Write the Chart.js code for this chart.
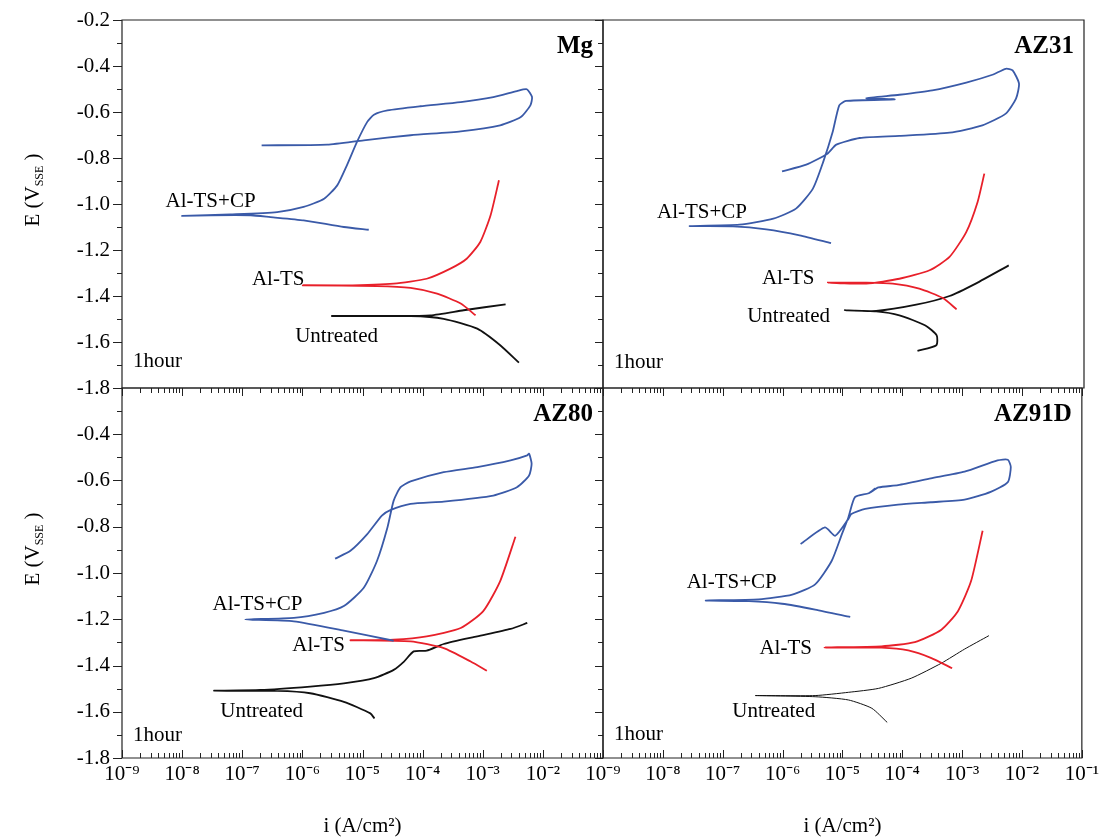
<!DOCTYPE html>
<html><head><meta charset="utf-8">
<script src="https://cdn.jsdelivr.net/npm/chart.js@4.4.0/dist/chart.umd.min.js"></script>
<style>
html,body{margin:0;padding:0;background:#fff;}
#wrap{position:relative;width:1103px;height:839px;background:#fff;}
#wrap canvas{position:absolute;left:0;top:0;}
</style></head><body><div id="wrap">
<canvas id="c0" width="1103" height="839"></canvas>
<canvas id="c1" width="1103" height="839"></canvas>
<canvas id="c2" width="1103" height="839"></canvas>
<canvas id="c3" width="1103" height="839"></canvas>
</div>
<script>
// ---- tick labels ----
const xTickValues = [1e-9,1e-8,1e-7,1e-6,1e-5,1e-4,1e-3,1e-2,1e-1];
const xTickLabels = ['10\u207B\u2079','10\u207B\u2078','10\u207B\u2077','10\u207B\u2076','10\u207B\u2075','10\u207B\u2074','10\u207B\u00B3','10\u207B\u00B2','10\u207B\u00B9'];
const yTickValues = [-1.8,-1.6,-1.4,-1.2,-1.0,-0.8,-0.6,-0.4,-0.2];
const yTickLabels = ['-1.8','-1.6','-1.4','-1.2','-1.0','-0.8','-0.6','-0.4','-0.2'];
const panelNames = ['Mg','AZ31','AZ80','AZ91D'];
const seriesNames = ['Al-TS+CP','Al-TS','Untreated'];

// ---- Mg ----
const mgCpI = [1.27e-5,4.9e-6,1.05e-6,2.95e-7,1.38e-7,2.95e-8,1.0e-8,6.3e-8,3.8e-7,1.05e-6,2.3e-6,3.8e-6,5.5e-6,8.1e-6,1.2e-5,1.55e-5,2.6e-5,9.1e-5,4.3e-4,1.5e-3,3.7e-3,5.4e-3,6.6e-3,6.2e-3,4.3e-3,1.95e-3,4.3e-4,6.3e-5,1.05e-5,2.6e-6,2.1e-7];
const mgCpE = [-1.112,-1.100,-1.071,-1.057,-1.049,-1.049,-1.052,-1.045,-1.035,-1.013,-0.977,-0.919,-0.832,-0.730,-0.643,-0.612,-0.593,-0.575,-0.557,-0.535,-0.509,-0.501,-0.535,-0.571,-0.622,-0.658,-0.684,-0.701,-0.723,-0.742,-0.745];
const mgTsI = [7.6e-4,4.3e-4,1.74e-4,6.3e-5,1.74e-5,1.02e-6,4.9e-6,3.3e-5,1.17e-4,2.9e-4,5.4e-4,9.1e-4,1.35e-3,1.86e-3];
const mgTsE = [-1.484,-1.433,-1.390,-1.365,-1.357,-1.354,-1.354,-1.346,-1.325,-1.281,-1.238,-1.165,-1.049,-0.897];
const mgUnI = [4.0e-3,1.95e-3,8.1e-4,2.24e-4,6.3e-5,3.1e-6,3.3e-5,1.35e-4,4.8e-4,2.4e-3];
const mgUnE = [-1.690,-1.614,-1.542,-1.499,-1.487,-1.487,-1.487,-1.484,-1.462,-1.436];

// ---- AZ31 ----
const az31CpI = [6.2e-6,1.86e-6,5.2e-7,1.45e-7,2.75e-8,1.86e-7,6.8e-7,1.62e-6,3.1e-6,4.6e-6,6.6e-6,8.5e-6,1.1e-5,7.1e-5,2.4e-5,8.5e-5,3.0e-4,1.1e-3,3.0e-3,5.0e-3,6.5e-3,8.3e-3,7.4e-3,5.0e-3,2.04e-3,5.8e-4,8.5e-5,1.86e-5,7.6e-6,5.4e-6,2.4e-6,9.5e-7];
const az31CpE = [-1.170,-1.136,-1.110,-1.097,-1.096,-1.090,-1.064,-1.020,-0.933,-0.817,-0.687,-0.571,-0.552,-0.545,-0.540,-0.525,-0.506,-0.472,-0.438,-0.412,-0.419,-0.477,-0.542,-0.607,-0.658,-0.690,-0.704,-0.713,-0.742,-0.781,-0.829,-0.858];
const az31TsI = [7.6e-4,4.5e-4,1.82e-4,6.6e-5,2.4e-5,5.5e-6,2.4e-5,8.5e-5,2.7e-4,5.8e-4,1.1e-3,1.7e-3,2.2e-3];
const az31TsE = [-1.458,-1.409,-1.368,-1.346,-1.342,-1.342,-1.346,-1.325,-1.288,-1.230,-1.122,-0.991,-0.868];
const az31UnI = [1.7e-4,3.5e-4,3.55e-4,2.3e-4,8.5e-5,3.5e-5,1.05e-5,3.5e-5,1.62e-4,5.8e-4,1.58e-3,5.6e-3];
const az31UnE = [-1.639,-1.614,-1.571,-1.528,-1.484,-1.467,-1.462,-1.465,-1.438,-1.400,-1.346,-1.267];

// ---- AZ80 ----
const az80CpI = [3.3e-5,4.9e-6,7.2e-7,1.12e-7,7.2e-7,2.3e-6,4.9e-6,1.05e-5,1.74e-5,2.6e-5,3.3e-5,4.3e-5,6.3e-5,2.24e-4,8.1e-4,2.9e-3,5.5e-3,5.9e-3,6.5e-3,5.9e-3,3.7e-3,1.5e-3,2.24e-4,6.3e-5,2.9e-5,2.1e-5,1.2e-5,6.3e-6,3.5e-6];
const az80CpE = [-1.293,-1.249,-1.209,-1.201,-1.194,-1.172,-1.143,-1.064,-0.948,-0.803,-0.687,-0.629,-0.604,-0.564,-0.542,-0.513,-0.491,-0.484,-0.528,-0.578,-0.629,-0.665,-0.691,-0.701,-0.728,-0.752,-0.832,-0.904,-0.938];
const az80TsI = [1.17e-3,6.3e-4,2.24e-4,6.3e-5,6.3e-6,3.3e-5,1.17e-4,4.3e-4,1.02e-3,1.95e-3,3.5e-3];
const az80TsE = [-1.423,-1.383,-1.325,-1.296,-1.291,-1.288,-1.274,-1.238,-1.165,-1.035,-0.843];
const az80UnI = [1.58e-5,1.35e-5,4.9e-6,1.35e-6,3.8e-7,3.4e-8,2.0e-7,1.35e-6,4.9e-6,1.55e-5,3.3e-5,4.9e-5,7.1e-5,1.17e-4,2.24e-4,8.1e-4,2.9e-3,5.5e-3];
const az80UnE = [-1.629,-1.607,-1.557,-1.520,-1.510,-1.509,-1.506,-1.491,-1.477,-1.455,-1.419,-1.383,-1.339,-1.336,-1.307,-1.274,-1.242,-1.216];

// ---- AZ91D ----
const az91CpI = [1.35e-5,3.5e-6,9.8e-7,2.75e-7,5.2e-8,4.0e-7,1.45e-6,3.5e-6,6.6e-6,9.8e-6,1.26e-5,1.62e-5,2.75e-5,3.5e-5,3.0e-5,4.0e-5,8.5e-5,3.0e-4,1.1e-3,3.9e-3,5.8e-3,6.5e-3,5.8e-3,3.0e-3,1.1e-3,3.0e-4,8.5e-5,2.4e-5,1.41e-5,1.26e-5,7.6e-6,5.1e-6,2.0e-6];
const az91CpE = [-1.190,-1.158,-1.133,-1.122,-1.119,-1.114,-1.093,-1.049,-0.948,-0.832,-0.759,-0.672,-0.655,-0.635,-0.650,-0.630,-0.620,-0.591,-0.562,-0.513,-0.510,-0.542,-0.607,-0.649,-0.683,-0.694,-0.704,-0.723,-0.745,-0.766,-0.839,-0.803,-0.875];
const az91TsI = [6.8e-4,3.0e-4,1.26e-4,4.5e-5,5.0e-6,4.5e-5,1.62e-4,4.5e-4,8.5e-4,1.41e-3,2.2e-3];
const az91TsE = [-1.412,-1.367,-1.335,-1.323,-1.322,-1.317,-1.299,-1.245,-1.165,-1.035,-0.817];
const az91UnI = [5.6e-5,3.1e-5,1.26e-5,3.5e-6,3.5e-7,3.5e-6,1.26e-5,4.0e-5,1.41e-4,4.5e-4,1.1e-3,2.8e-3];
const az91UnE = [-1.646,-1.585,-1.549,-1.535,-1.530,-1.530,-1.516,-1.499,-1.455,-1.390,-1.329,-1.271];

// ---- styling / layout ----
const FONT = "'Liberation Serif','Times New Roman',Times,serif";
const BLUE = '#3a5aa8', RED = '#e8202a', BLACK = '#111111';
const W = 1103, H = 839;

const panels = [
  {cv:'c0', name:panelNames[0], box:[122,20,603,388], left:true,  bottom:false, topTicks:false,
   curves:[[mgCpI,mgCpE,BLUE,1.8],[mgTsI,mgTsE,RED,1.8],[mgUnI,mgUnE,BLACK,1.8]],
   labels:[[5.3e-9,-0.987],[1.45e-7,-1.330],[7.6e-7,-1.574]], hourY:361, yTitleY:190},
  {cv:'c1', name:panelNames[1], box:[603,20,1084,388], left:false, bottom:false, topTicks:false,
   curves:[[az31CpI,az31CpE,BLUE,1.8],[az31TsI,az31TsE,RED,1.8],[az31UnI,az31UnE,BLACK,1.8]],
   labels:[[7.9e-9,-1.035],[4.4e-7,-1.322],[2.5e-7,-1.487]], hourY:362},
  {cv:'c2', name:panelNames[2], box:[122,388,603,758], left:true,  bottom:true, topTicks:true,
   curves:[[az80CpI,az80CpE,BLUE,1.8],[az80TsI,az80TsE,RED,1.8],[az80UnI,az80UnE,BLACK,1.8]],
   labels:[[3.2e-8,-1.138],[6.8e-7,-1.314],[4.3e-8,-1.598]], hourY:735, yTitleY:549},
  {cv:'c3', name:panelNames[3], box:[603,388,1084,758], left:false, bottom:true, topTicks:true,
   curves:[[az91CpI,az91CpE,BLUE,1.8],[az91TsI,az91TsE,RED,1.8],[az91UnI,az91UnE,BLACK,1.0]],
   labels:[[2.5e-8,-1.043],[4.1e-7,-1.327],[1.45e-7,-1.598]], hourY:734}
];

function decoPlugin(p){
  return {
    id:'deco',
    afterDraw(chart){
      const ctx = chart.ctx, a = chart.chartArea, xs = chart.scales.x, ys = chart.scales.y;
      ctx.save();
      ctx.strokeStyle = '#222';
      ctx.lineWidth = 1.2;
      // frame
      ctx.beginPath();
      ctx.rect(a.left, a.top, a.right - a.left, a.bottom - a.top);
      ctx.stroke();
      ctx.lineWidth = 1;
      ctx.beginPath();
      // y ticks
      for (let k = -18; k <= -2; k++) {
        const py = Math.round(ys.getPixelForValue(k / 10)) + 0.5;
        const major = (k % 2 === 0);
        if (p.left) {
          ctx.moveTo(a.left - (major ? 9 : 5), py); ctx.lineTo(a.left, py);
          ctx.moveTo(a.right, py); ctx.lineTo(a.right - (major ? 8 : 5), py);
        }
      }
      // x ticks
      for (let d = -9; d <= -1; d++) {
        for (let m = 1; m <= 9; m++) {
          if (d === -1 && m > 1) break;
          const px = Math.round(xs.getPixelForValue(m * Math.pow(10, d))) + 0.5;
          const major = (m === 1);
          if (p.bottom) {
            ctx.moveTo(px, a.bottom); ctx.lineTo(px, a.bottom - (major ? 8 : 5));
          }
          if (p.topTicks) {
            ctx.moveTo(px, a.top); ctx.lineTo(px, a.top + (major ? 8 : 5));
          }
        }
      }
      ctx.stroke();
      // panel title
      ctx.fillStyle = '#000';
      ctx.font = 'bold 25px ' + FONT;
      ctx.textAlign = 'right';
      ctx.textBaseline = 'alphabetic';
      ctx.fillText(p.name, a.right - 10, a.top + 33);
      // 1hour
      ctx.font = '21px ' + FONT;
      ctx.textAlign = 'left';
      ctx.textBaseline = 'middle';
      ctx.fillText('1hour', a.left + 11, p.hourY);
      // curve labels
      p.labels.forEach((lb, j) => {
        ctx.fillText(seriesNames[j], xs.getPixelForValue(lb[0]), ys.getPixelForValue(lb[1]));
      });
      // y title
      if (p.left) {
        ctx.save();
        ctx.translate(32, p.yTitleY);
        ctx.rotate(-Math.PI / 2);
        const big = '21px ' + FONT, small = '12px ' + FONT;
        ctx.font = big; const w1 = ctx.measureText('E (V').width;
        ctx.font = small; const w2 = ctx.measureText('SSE').width;
        ctx.font = big; const w3 = ctx.measureText(' )').width;
        let x0 = -(w1 + w2 + w3) / 2;
        ctx.textAlign = 'left';
        ctx.textBaseline = 'alphabetic';
        ctx.font = big; ctx.fillText('E (V', x0, 7);
        ctx.font = small; ctx.fillText('SSE', x0 + w1, 11);
        ctx.font = big; ctx.fillText(' )', x0 + w1 + w2, 7);
        ctx.restore();
      }
      ctx.restore();
    }
  };
}

panels.forEach(p => {
  const [L, T, R, B] = p.box;
  const datasets = p.curves.map((c, j) => ({
    label: seriesNames[j],
    data: c[0].map((v, k) => ({x: v, y: c[1][k]})),
    showLine: true,
    borderColor: c[2],
    backgroundColor: c[2],
    borderWidth: c[3],
    pointRadius: 0,
    tension: 0.2,
    fill: false
  }));
  new Chart(document.getElementById(p.cv), {
    type: 'scatter',
    data: {datasets},
    options: {
      responsive: false,
      devicePixelRatio: 1,
      animation: false,
      events: [],
      layout: {padding: {left: 0, top: T, right: W - R, bottom: 0}},
      plugins: {legend: {display: false}, tooltip: {enabled: false}},
      scales: {
        x: {
          type: 'logarithmic', position: 'bottom', min: 1e-9, max: 1e-1,
          grid: {display: false, drawTicks: false},
          border: {display: false},
          afterFit: s => { s.height = H - B; },
          afterBuildTicks: s => { s.ticks = xTickValues.map(v => ({value: v, major: true})); },
          ticks: {
            display: p.bottom, autoSkip: false, maxRotation: 0, padding: 4,
            color: '#000', font: {family: FONT, size: 21},
            callback: (v, i) => (p.left && i === xTickLabels.length - 1) ? '' : xTickLabels[i]
          },
          title: {display: p.bottom, text: 'i (A/cm\u00B2)', color: '#000',
                  font: {family: FONT, size: 21}, padding: {top: 0, bottom: 0}}
        },
        y: {
          type: 'linear', position: 'left', min: -1.8, max: -0.2,
          grid: {display: true, drawOnChartArea: false, drawTicks: true, tickLength: 12,
                 color: 'rgba(0,0,0,0)'},
          border: {display: false},
          afterFit: s => { s.width = L; },
          afterBuildTicks: s => { s.ticks = yTickValues.map(v => ({value: v})); },
          ticks: {
            display: p.left, padding: 0, autoSkip: false,
            color: '#000', font: {family: FONT, size: 21},
            callback: (v, i) => (p.bottom && i === yTickLabels.length - 1) ? '' : yTickLabels[i]
          }
        }
      }
    },
    plugins: [decoPlugin(p)]
  });
});
</script>
</body></html>
